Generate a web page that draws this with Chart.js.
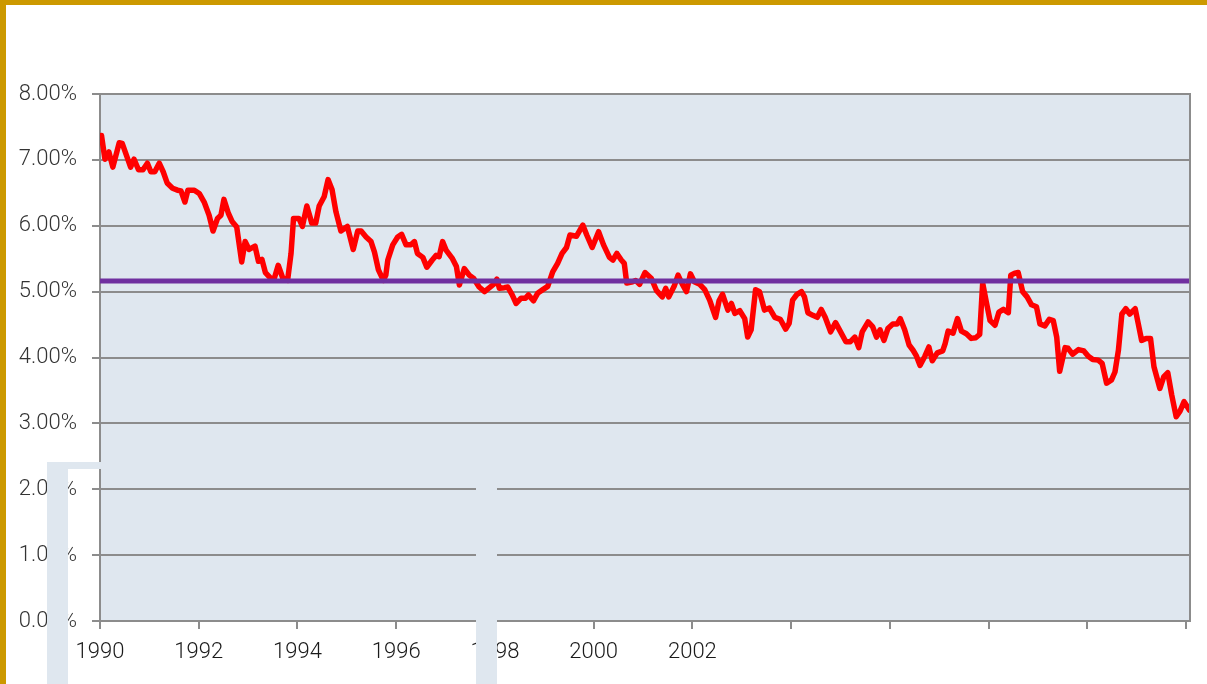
<!DOCTYPE html>
<html>
<head>
<meta charset="utf-8">
<script src="https://cdn.jsdelivr.net/npm/chart.js@4.4.1/dist/chart.umd.min.js"></script>
<style>
  html, body { margin: 0; padding: 0; background: #fff; }
  #wrap { position: relative; width: 1207px; height: 684px; overflow: hidden; }
  .band { position: absolute; background: #cc9900; }
</style>
</head>
<body>
<div id="wrap">
  <canvas id="chart"></canvas>
  <div class="band" style="left:0;top:0;width:1207px;height:5px;"></div>
  <div class="band" style="left:0;top:0;width:6px;height:684px;"></div>
</div>
<script>
// monthly-ish readings, decimal years vs yield in %
const dates = [
  1990.03, 1990.10, 1990.18, 1990.26, 1990.39, 1990.45, 1990.62, 1990.69, 1990.78, 1990.87, 1990.96,
  1991.03, 1991.11, 1991.20, 1991.28, 1991.36, 1991.47, 1991.57, 1991.64, 1991.72, 1991.78, 1991.91,
  1992.01, 1992.11, 1992.21, 1992.29, 1992.38, 1992.45, 1992.51, 1992.60, 1992.68, 1992.77, 1992.87, 1992.94,
  1993.02, 1993.14, 1993.21, 1993.28, 1993.35, 1993.46, 1993.53, 1993.61, 1993.70, 1993.80, 1993.87, 1993.92,
  1994.03, 1994.10, 1994.19, 1994.29, 1994.37, 1994.44, 1994.54, 1994.62, 1994.70, 1994.78, 1994.88,
  1995.01, 1995.13, 1995.22, 1995.29, 1995.39, 1995.49, 1995.56, 1995.64, 1995.74, 1995.79, 1995.83, 1995.93,
  1996.03, 1996.11, 1996.20, 1996.30, 1996.37, 1996.43, 1996.54, 1996.62, 1996.73, 1996.81, 1996.87, 1996.94,
  1997.01, 1997.14, 1997.22, 1997.28, 1997.38, 1997.48, 1997.57, 1997.68, 1997.79, 1997.89, 1997.99,
  1998.04, 1998.09, 1998.19, 1998.26, 1998.35, 1998.43, 1998.53, 1998.62, 1998.68, 1998.78, 1998.87, 1998.97,
  1999.07, 1999.17, 1999.27, 1999.36, 1999.45, 1999.52, 1999.65, 1999.78, 1999.86, 1999.97,
  2000.10, 2000.20, 2000.32, 2000.39, 2000.47, 2000.56, 2000.62, 2000.67, 2000.79, 2000.85, 2000.93,
  2001.04, 2001.17, 2001.27, 2001.39, 2001.46, 2001.52, 2001.63, 2001.71, 2001.79, 2001.88, 2001.96,
  2002.04, 2002.15, 2002.25, 2002.35, 2002.47, 2002.54, 2002.61, 2002.72, 2002.79, 2002.86, 2002.96,
  2003.06, 2003.12, 2003.19, 2003.28, 2003.36, 2003.46, 2003.56, 2003.67, 2003.78, 2003.89, 2003.96,
  2004.03, 2004.12, 2004.21, 2004.27, 2004.34, 2004.44, 2004.53, 2004.61, 2004.69, 2004.80, 2004.90, 2004.98,
  2005.11, 2005.20, 2005.29, 2005.37, 2005.44, 2005.56, 2005.65, 2005.73, 2005.80, 2005.88, 2005.96,
  2006.06, 2006.15, 2006.21, 2006.30, 2006.39, 2006.47, 2006.54, 2006.61, 2006.71, 2006.79, 2006.86, 2006.96,
  2007.07, 2007.12, 2007.18, 2007.28, 2007.37, 2007.45, 2007.55, 2007.65, 2007.74, 2007.82, 2007.88, 2007.96,
  2008.03, 2008.13, 2008.21, 2008.30, 2008.40, 2008.45, 2008.53, 2008.60, 2008.69, 2008.78, 2008.87, 2008.97,
  2009.04, 2009.14, 2009.23, 2009.31, 2009.38, 2009.44, 2009.55, 2009.61, 2009.70, 2009.82, 2009.93,
  2010.02, 2010.11, 2010.22, 2010.30, 2010.39, 2010.49, 2010.56, 2010.63, 2010.70, 2010.78, 2010.86, 2010.97,
  2011.03, 2011.10, 2011.19, 2011.28, 2011.35, 2011.47, 2011.55, 2011.63, 2011.71, 2011.80, 2011.88, 2011.96,
  2012.07
];
const rates = [
  7.37, 7.01, 7.12, 6.89, 7.26, 7.25, 6.89, 7.01, 6.85, 6.85, 6.95,
  6.82, 6.82, 6.95, 6.82, 6.65, 6.57, 6.54, 6.53, 6.36, 6.54, 6.54,
  6.49, 6.36, 6.16, 5.92, 6.11, 6.16, 6.40, 6.19, 6.06, 5.98, 5.45, 5.76,
  5.64, 5.69, 5.46, 5.49, 5.29, 5.20, 5.20, 5.40, 5.21, 5.17, 5.58, 6.11,
  6.11, 5.99, 6.30, 6.04, 6.04, 6.30, 6.44, 6.70, 6.55, 6.21, 5.92,
  5.99, 5.64, 5.92, 5.92, 5.83, 5.76, 5.60, 5.33, 5.17, 5.25, 5.48, 5.71,
  5.83, 5.87, 5.71, 5.71, 5.76, 5.58, 5.52, 5.37, 5.48, 5.55, 5.53, 5.76,
  5.63, 5.50, 5.38, 5.10, 5.35, 5.25, 5.20, 5.07, 5.00, 5.06, 5.12,
  5.19, 5.05, 5.06, 5.07, 4.95, 4.82, 4.90, 4.90, 4.95, 4.86, 4.98, 5.03,
  5.08, 5.30, 5.43, 5.58, 5.67, 5.86, 5.84, 6.01, 5.86, 5.67,
  5.91, 5.71, 5.52, 5.48, 5.58, 5.48, 5.43, 5.13, 5.15, 5.17, 5.11,
  5.29, 5.20, 5.02, 4.92, 5.05, 4.92, 5.08, 5.25, 5.12, 5.00, 5.27,
  5.15, 5.11, 5.03, 4.87, 4.61, 4.86, 4.96, 4.72, 4.82, 4.67, 4.71,
  4.59, 4.31, 4.42, 5.03, 5.00, 4.72, 4.75, 4.61, 4.58, 4.43, 4.52,
  4.87, 4.96, 5.00, 4.92, 4.68, 4.64, 4.61, 4.73, 4.61, 4.39, 4.53, 4.42,
  4.24, 4.24, 4.31, 4.15, 4.39, 4.54, 4.47, 4.31, 4.42, 4.26, 4.44,
  4.51, 4.51, 4.59, 4.42, 4.19, 4.11, 4.02, 3.88, 4.02, 4.16, 3.95, 4.07,
  4.10, 4.21, 4.40, 4.37, 4.59, 4.40, 4.36, 4.29, 4.30, 4.35, 5.13, 4.82,
  4.56, 4.49, 4.69, 4.73, 4.68, 5.25, 5.28, 5.29, 5.00, 4.92, 4.80, 4.77,
  4.51, 4.48, 4.58, 4.56, 4.31, 3.79, 4.15, 4.14, 4.05, 4.12, 4.10,
  4.02, 3.97, 3.96, 3.91, 3.61, 3.66, 3.78, 4.11, 4.66, 4.74, 4.66, 4.74,
  4.52, 4.26, 4.29, 4.29, 3.86, 3.53, 3.71, 3.77, 3.43, 3.10, 3.19, 3.33,
  3.20
];

// long-run average line
const avgRate = 5.16;
const xStart = 1990;
const xEnd = 2012.08;

const xTicks = [1990, 1992, 1994, 1996, 1998, 2000, 2002, 2004, 2006, 2008, 2010, 2012];
const xLabels = ['1990', '1992', '1994', '1996', '1998', '2000', '2002', '', '', '', '', ''];

const gridGray = '#8c8c8c';
const plotBg = '#dfe7ef';

const plotBackground = {
    id: 'plotBackground',
    beforeDraw(chart) {
        const { ctx, chartArea: a } = chart;
        ctx.save();
        ctx.fillStyle = plotBg;
        ctx.fillRect(a.left, a.top, a.right - a.left, a.bottom - a.top);
        ctx.restore();
    },
    afterDatasetsDraw(chart) {
        // right edge of the plot frame
        const { ctx, chartArea: a } = chart;
        ctx.save();
        ctx.strokeStyle = gridGray;
        ctx.lineWidth = 2;
        ctx.beginPath();
        ctx.moveTo(a.right, a.top - 1);
        ctx.lineTo(a.right, a.bottom);
        ctx.stroke();
        ctx.restore();
    },
    afterDraw(chart) {
        // the pale frame pasted over the lower left corner
        const ctx = chart.ctx;
        ctx.save();
        ctx.fillStyle = plotBg;
        ctx.fillRect(47, 462, 450, 7);
        ctx.fillRect(47, 462, 21, 222);
        ctx.fillRect(476, 462, 21, 222);
        ctx.restore();
    }
};

const ctx = document.getElementById('chart').getContext('2d');
new Chart(ctx, {
    type: 'line',
    data: {
        datasets: [
            {
                label: 'Average',
                data: [{ x: xStart, y: avgRate }, { x: xEnd, y: avgRate }],
                borderColor: '#7030a0',
                borderWidth: 5,
                pointRadius: 0
            },
            {
                label: 'Yield',
                data: dates.map((d, i) => ({ x: d, y: rates[i] })),
                borderColor: '#ff0000',
                borderWidth: 5.5,
                borderJoinStyle: 'round',
                borderCapStyle: 'round',
                pointRadius: 0,
                tension: 0
            }
        ]
    },
    options: {
        responsive: true,
        maintainAspectRatio: false,
        animation: false,
        layout: { padding: { top: 94, right: 17, left: 0, bottom: 0 } },
        scales: {
            x: {
                type: 'linear',
                min: xStart,
                max: xEnd,
                afterBuildTicks: (scale) => { scale.ticks = xTicks.map(v => ({ value: v })); },
                afterFit: (scale) => { scale.height = 63; },
                grid: { drawOnChartArea: false, color: gridGray, lineWidth: 2, tickLength: 8 },
                border: { color: gridGray, width: 2 },
                ticks: {
                    autoSkip: false,
                    maxRotation: 0,
                    padding: 10,
                    color: '#1a1a1a',
                    font: { family: 'Roboto', size: 22, weight: '300' },
                    callback: (v) => xLabels[xTicks.indexOf(v)] ?? ''
                }
            },
            y: {
                min: 0,
                max: 8,
                afterFit: (scale) => { scale.width = 100; },
                grid: { color: gridGray, lineWidth: 2, tickLength: 8 },
                border: { color: gridGray, width: 2 },
                ticks: {
                    stepSize: 1,
                    padding: 15,
                    color: '#333',
                    font: { family: 'Roboto', size: 22, weight: '300' },
                    callback: (v) => v.toFixed(2) + '%'
                }
            }
        },
        plugins: {
            legend: { display: false },
            tooltip: { enabled: false }
        }
    },
    plugins: [plotBackground]
});
</script>
</body>
</html>
